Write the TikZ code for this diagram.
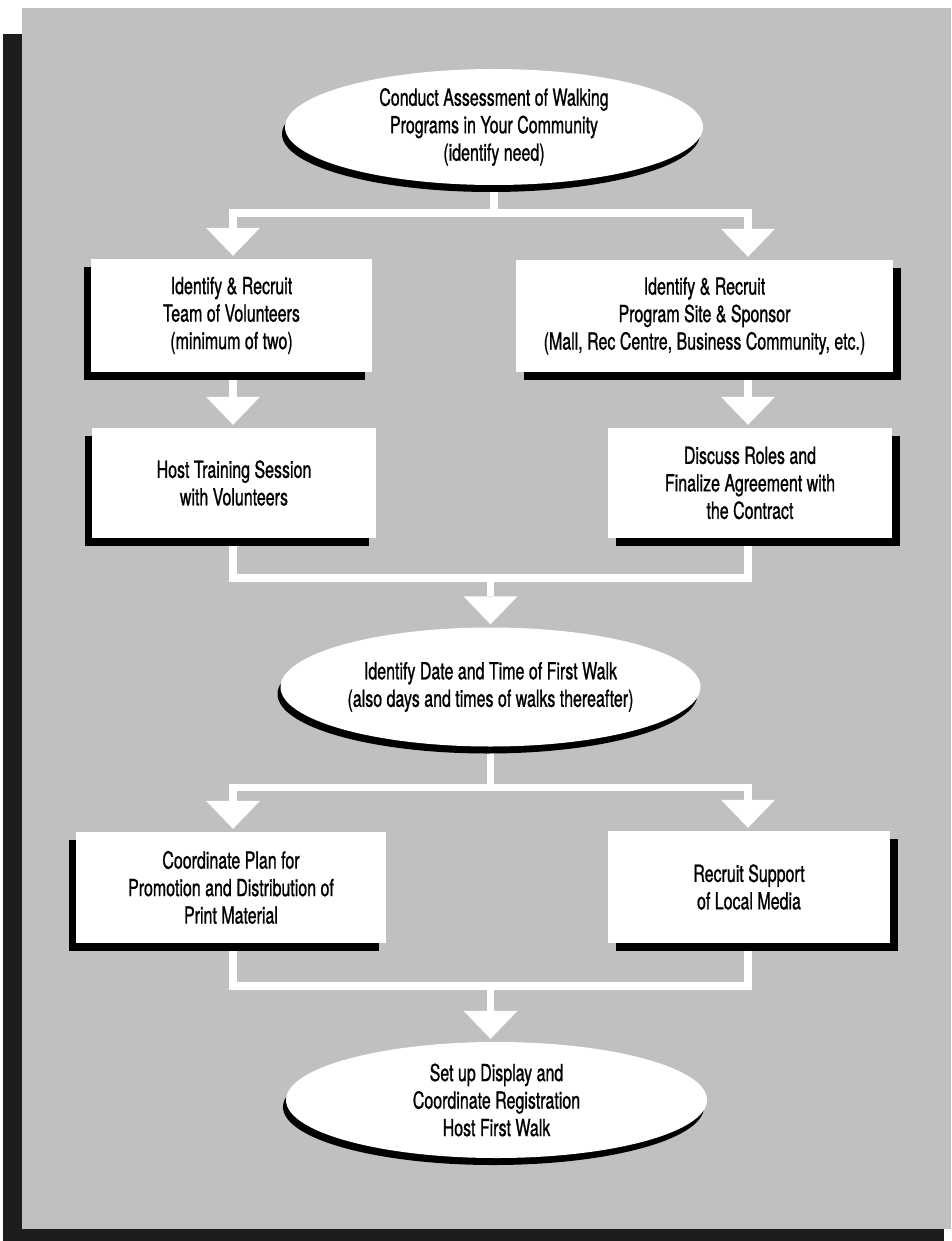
\documentclass[tikz,border=0pt]{standalone}
\usepackage{fontspec}
\setmainfont{TeX Gyre Heros}[FakeStretch=0.68, FakeBold=0.9]
\usetikzlibrary{shadows,arrows.meta,calc,shapes.geometric}
\pgfdeclarelayer{panel}
\pgfdeclarelayer{wires}
\pgfsetlayers{panel,wires,main}
\definecolor{panelgrey}{RGB}{192,192,192}
\definecolor{paneldark}{RGB}{30,28,29}
\tikzset{
  txt/.style={font=\fontsize{23.5}{27.5}\selectfont, align=center, text=black},
  boxnode/.style={txt, rectangle, fill=white, inner sep=0pt},
  lshadow/.style={drop shadow={shadow xshift=-7.5pt, shadow yshift=-7.5pt, opacity=1, fill=black}},
  rshadow/.style={drop shadow={shadow xshift=7.5pt, shadow yshift=-7.5pt, opacity=1, fill=black}},
  ellnode/.style={txt, ellipse, fill=white, inner sep=0pt,
    drop shadow={shadow xshift=-3pt, shadow yshift=-7pt, opacity=1, fill=black}},
  wire/.style={draw=white, line width=7.5pt},
  tip/.style={-{Triangle[width=54pt,length=28pt,line width=0pt]}, shorten >=3pt},
}
\begin{document}
\begin{tikzpicture}[x=1pt,y=-1pt]
\useasboundingbox (0,0) rectangle (951,1241);
\begin{pgfonlayer}{panel}
  \fill[white] (0,0) rectangle (951,1241);
  \fill[paneldark] (3,34) rectangle (22,1241);
  \fill[paneldark] (3,1229) rectangle (944,1241);
  \fill[panelgrey] (22,8) rectangle (951,1229);
\end{pgfonlayer}

\node[ellnode, minimum width=418pt, minimum height=116pt] (e1) at (494,127)
  {Conduct Assessment of Walking\\Programs in Your Community\\(identify need)};
\node[boxnode, lshadow, minimum width=281pt, minimum height=113pt] (b1) at (231.5,315.5)
  {Identify \& Recruit\\Team of Volunteers\\(minimum of two)};
\node[boxnode, rshadow, minimum width=377pt, minimum height=112pt] (b2) at (704.5,316)
  {Identify \& Recruit\\Program Site \& Sponsor\\(Mall, Rec Centre, Business Community, etc.)};
\node[boxnode, lshadow, minimum width=284pt, minimum height=110pt] (b3) at (234,483)
  {Host Training Session\\with Volunteers};
\node[boxnode, rshadow, minimum width=284pt, minimum height=110pt] (b4) at (750,483)
  {Discuss Roles and\\Finalize Agreement with\\the Contract};
\node[ellnode, minimum width=420pt, minimum height=119pt] (e2) at (490.5,687)
  {Identify Date and Time of First Walk\\(also days and times of walks thereafter)};
\node[boxnode, lshadow, minimum width=310pt, minimum height=111pt] (b5) at (231,887.5)
  {Coordinate Plan for\\Promotion and Distribution of\\Print Material};
\node[boxnode, rshadow, minimum width=282pt, minimum height=112pt] (b6) at (749,887)
  {Recruit Support\\of Local Media};
\node[ellnode, minimum width=421pt, minimum height=116pt] (e3) at (496.5,1100)
  {Set up Display and\\Coordinate Registration\\Host First Walk};

\begin{pgfonlayer}{wires}
  \coordinate (xl) at (233,0);
  \coordinate (xr) at (748,0);
  \path (e1.south) ++(0,28) coordinate (j1);
  \draw[wire] (e1.south) -- (j1);
  \draw[wire,tip] (j1) -| (b1.north -| xl);
  \draw[wire,tip] (j1) -| (b2.north -| xr);
  \draw[wire,tip] (b1.south -| xl) -- (b3.north -| xl);
  \draw[wire,tip] (b2.south -| xr) -- (b4.north -| xr);
  \path (b3.south -| xl) ++(0,40) coordinate (k1);
  \draw[wire] (b3.south -| xl) -- (k1) -- (k1 -| xr) -- (b4.south -| xr);
  \coordinate (m1) at ($(k1)!0.5!(k1 -| xr)$);
  \draw[wire,tip] (m1) -- (m1 |- e2.north);
  \path (e2.south) ++(0,41) coordinate (j2);
  \draw[wire] (e2.south) -- (j2);
  \draw[wire,tip] (j2) -| (b5.north -| xl);
  \draw[wire,tip] (j2) -| (b6.north -| xr);
  \path (b5.south -| xl) ++(0,43) coordinate (k2);
  \draw[wire] (b5.south -| xl) -- (k2) -- (k2 -| xr) -- (b6.south -| xr);
  \coordinate (m2) at ($(k2)!0.5!(k2 -| xr)$);
  \draw[wire,tip] (m2) -- (m2 |- e3.north);
\end{pgfonlayer}
\end{tikzpicture}
\end{document}
